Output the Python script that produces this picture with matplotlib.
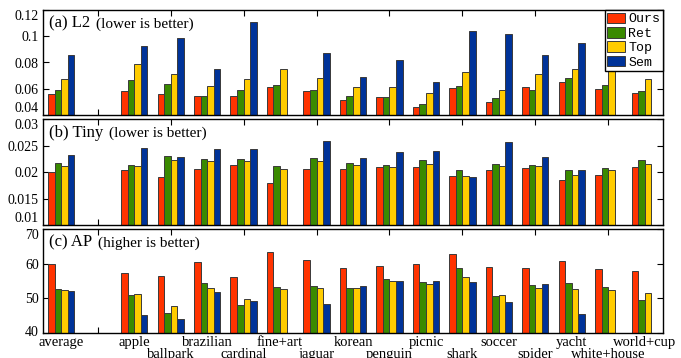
import numpy as np
import matplotlib.pyplot as plt

plt.rcParams['font.family'] = ['Liberation Serif', 'DejaVu Serif']

nan = np.nan

categories = ["average", "apple", "ballpark", "brazilian", "cardinal", "fine+art",
              "jaguar", "korean", "penguin", "picnic", "shark", "soccer",
              "spider", "yacht", "white+house", "world+cup"]
methods = ["Ours", "Ret", "Top", "Sem"]

# (a) L2 distance
l2_ours = [0.0563, 0.0580, 0.0563, 0.0548, 0.0545, 0.0616, 0.0580, 0.0512,
           0.0535, 0.0461, 0.0606, 0.0499, 0.0611, 0.0655, 0.0598, 0.0566]
l2_ret  = [0.0594, 0.0667, 0.0634, 0.0548, 0.0588, 0.0626, 0.0594, 0.0545,
           0.0540, 0.0484, 0.0621, 0.0527, 0.0588, 0.0682, 0.0626, 0.0586]
l2_top  = [0.0675, 0.0792, 0.0710, 0.0624, 0.0672, 0.0749, 0.0682, 0.0617,
           0.0617, 0.0571, 0.0726, 0.0591, 0.0710, 0.0754, 0.0740, 0.0672]
l2_sem  = [0.0855, 0.0926, 0.0987, 0.0749, 0.1110, nan,    0.0870, 0.0687,
           0.0822, 0.0649, 0.1038, 0.1015, 0.0860, 0.0949, nan,    nan]

# (b) Tiny images distance
tiny_ours = [0.0200, 0.0203, 0.0190, 0.0206, 0.0214, 0.0179, 0.0206, 0.0206,
             0.0209, 0.0210, 0.0192, 0.0204, 0.0208, 0.0185, 0.0194, 0.0210]
tiny_ret  = [0.0217, 0.0214, 0.0231, 0.0224, 0.0224, 0.0211, 0.0226, 0.0217,
             0.0214, 0.0222, 0.0204, 0.0215, 0.0214, 0.0203, 0.0207, 0.0222]
tiny_top  = [0.0211, 0.0211, 0.0223, 0.0221, 0.0221, 0.0206, 0.0221, 0.0214,
             0.0210, 0.0216, 0.0193, 0.0211, 0.0211, 0.0194, 0.0203, 0.0216]
tiny_sem  = [0.0233, 0.0245, 0.0228, 0.0244, 0.0243, nan,    0.0258, 0.0226,
             0.0238, 0.0239, 0.0191, 0.0256, 0.0228, 0.0204, nan,    nan]

# (c) average precision
ap_ours = [60.0, 57.4, 56.5, 60.4, 56.1, 63.5, 61.2, 58.7,
           59.4, 59.9, 62.9, 59.0, 58.7, 60.7, 58.6, 58.0]
ap_ret  = [52.6, 51.0, 45.9, 54.3, 48.1, 53.2, 53.6, 52.9,
           55.7, 54.7, 58.8, 50.8, 53.9, 54.5, 53.3, 49.5]
ap_top  = [52.3, 51.3, 47.7, 53.1, 49.8, 52.6, 53.1, 52.9,
           55.1, 54.0, 56.2, 51.1, 53.0, 52.6, 52.4, 51.4]
ap_sem  = [52.0, 45.2, 44.1, 51.9, 49.1, nan,  48.4, 53.6,
           55.0, 55.1, 54.6, 49.0, 54.1, 45.5, nan,  nan]

colors = ["#ff3300", "#3a8a00", "#ffcc00", "#003399"]

# "average" stands apart, one empty slot after it
idx = np.arange(len(categories))
x = idx + (idx > 0)
bar_w = 0.18
offsets = (np.arange(4) - 1.5) * bar_w


def draw_panel(ax, series, ylim, yticks, ylabels, head, tail):
    for j, vals in enumerate(series):
        vals = np.asarray(vals, dtype=float)
        ok = ~np.isnan(vals)
        ax.bar(x[ok] + offsets[j], vals[ok], bar_w, color=colors[j],
               edgecolor="#3a3a3a", linewidth=0.7, label=methods[j], zorder=2)

    ax.set_xlim(-0.5, 16.5)
    ax.set_ylim(*ylim)
    ax.set_yticks(yticks)
    ax.set_yticklabels(ylabels)
    ax.set_xticks(np.arange(1, 16, 2))
    ax.set_xticklabels([])
    ax.tick_params(direction="in", top=True, right=True, length=4,
                   width=0.8, labelsize=10, pad=3)
    for s in ax.spines.values():
        s.set_linewidth(1.0)

    # keep end labels inside the frame
    lbls = ax.get_yticklabels()
    lbls[0].set_va("bottom")
    lbls[-1].set_va("top")

    t = ax.annotate(head, xy=(0, 1), xycoords="axes fraction",
                    xytext=(4.5, -10), textcoords="offset points",
                    ha="left", va="center", fontsize=12)
    ax.annotate(tail, xy=(1, 0), xycoords=t,
                xytext=(4, 0.3), textcoords="offset points",
                ha="left", va="bottom", fontsize=11)


fig = plt.figure(figsize=(6.81, 3.58), dpi=100)
W, H = 681, 358
L, R = 43, 663


def add_ax(top, bottom):
    return fig.add_axes([L / W, 1 - bottom / H, (R - L) / W, (bottom - top) / H])


ax_a = add_ax(10, 115)
ax_b = add_ax(119, 225)
ax_c = add_ax(229, 333)

draw_panel(ax_a, [l2_ours, l2_ret, l2_top, l2_sem], (0.04, 0.12),
           [0.04, 0.06, 0.08, 0.1, 0.12], ["0.04", "0.06", "0.08", "0.1", "0.12"],
           "(a) L2", "(lower is better)")
draw_panel(ax_b, [tiny_ours, tiny_ret, tiny_top, tiny_sem], (0.01, 0.03),
           [0.01, 0.015, 0.02, 0.025, 0.03], ["0.01", "0.015", "0.02", "0.025", "0.03"],
           "(b) Tiny", "(lower is better)")
draw_panel(ax_c, [ap_ours, ap_ret, ap_top, ap_sem], (40, 70),
           [40, 50, 60, 70], ["40", "50", "60", "70"],
           "(c) AP", "(higher is better)")
ax_c.get_yticklabels()[0].set_va("center")

leg = ax_a.legend(loc="upper right", prop={"family": "Liberation Mono", "size": 9.5},
                  fancybox=False, edgecolor="black", framealpha=1,
                  borderaxespad=0, borderpad=0.2, labelspacing=0.12,
                  handlelength=1.35, handleheight=0.85, handletextpad=0.25)
leg.get_frame().set_linewidth(1.0)

# category names in two staggered rows under the last panel
for xi, name in zip(x, categories):
    dy = -6.5 if xi % 2 == 0 else -15.5
    ax_c.annotate(name, xy=(xi, 0), xycoords=("data", "axes fraction"),
                  xytext=(0, dy), textcoords="offset points",
                  ha="center", va="center", fontsize=10.5, annotation_clip=False)

fig.savefig("out.png", dpi=100)
